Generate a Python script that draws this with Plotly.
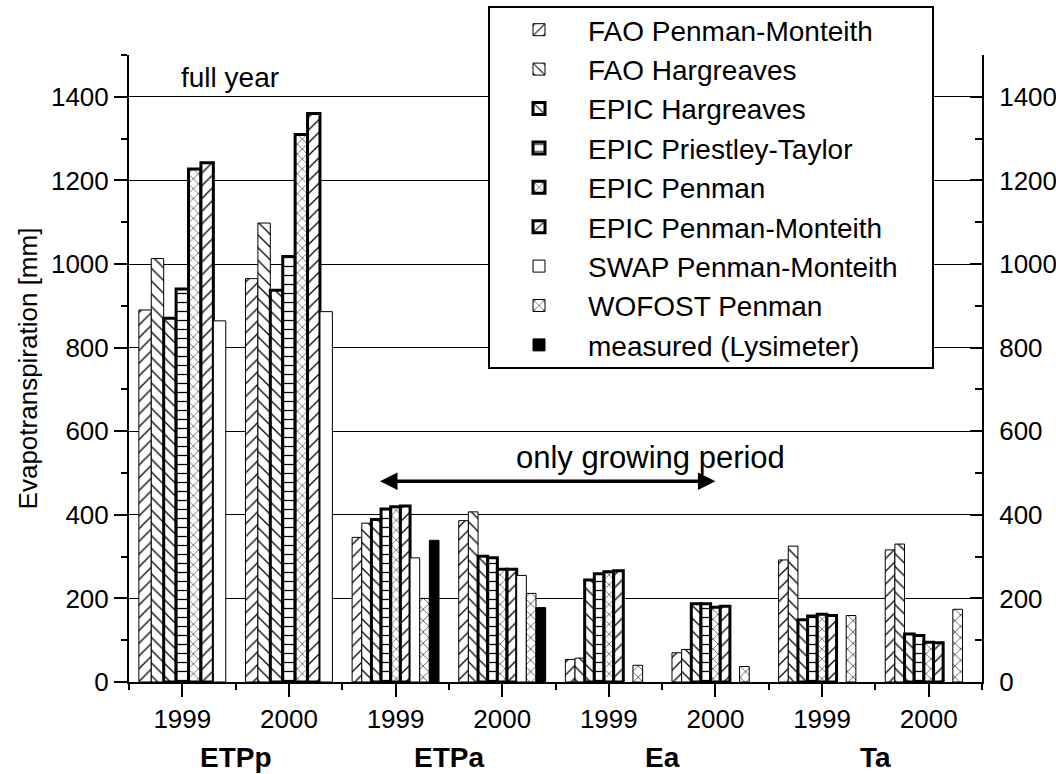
import plotly.graph_objects as go

# ---------------- data ----------------
categories = ["ETPp 1999", "ETPp 2000", "ETPa 1999", "ETPa 2000",
              "Ea 1999", "Ea 2000", "Ta 1999", "Ta 2000"]
year_labels = ["1999", "2000", "1999", "2000", "1999", "2000", "1999", "2000"]
group_labels = ["ETPp", "ETPa", "Ea", "Ta"]
full_year_cats = categories[:2]
growing_cats = categories[2:]

series_names = ["FAO Penman-Monteith", "FAO Hargreaves", "EPIC Hargreaves",
                "EPIC Priestley-Taylor", "EPIC Penman", "EPIC Penman-Monteith",
                "SWAP Penman-Monteith", "WOFOST Penman", "measured (Lysimeter)"]

# full year (ETPp 1999, 2000)
full_fao_pm = [890, 965]
full_fao_harg = [1013, 1098]
full_epic_harg = [870, 937]
full_epic_pt = [940, 1018]
full_epic_pen = [1227, 1310]
full_epic_pm = [1242, 1360]
full_swap_pm = [864, 886]

# growing period (ETPa 99, ETPa 00, Ea 99, Ea 00, Ta 99, Ta 00)
grow_fao_pm = [346, 386, 54, 70, 292, 316]
grow_fao_harg = [380, 407, 57, 78, 325, 330]
grow_epic_harg = [389, 301, 244, 187, 149, 115]
grow_epic_pt = [414, 297, 259, 187, 158, 111]
grow_epic_pen = [419, 270, 264, 179, 162, 95]
grow_epic_pm = [421, 270, 266, 181, 159, 94]
grow_swap_pm = [297, 255, None, None, None, None]
grow_wofost = [200, 212, 40, 37, 159, 174]
grow_measured = [339, 178, None, None, None, None]

full_values = [full_fao_pm, full_fao_harg, full_epic_harg, full_epic_pt,
               full_epic_pen, full_epic_pm, full_swap_pm, None, None]
grow_values = [grow_fao_pm, grow_fao_harg, grow_epic_harg, grow_epic_pt,
               grow_epic_pen, grow_epic_pm, grow_swap_pm, grow_wofost, grow_measured]

# ---------------- styles ----------------
FONT = "Liberation Sans, Arial, sans-serif"
styles = [
    dict(shape="/", lw=1, color="white", size=9),
    dict(shape="\\", lw=1, color="white", size=9),
    dict(shape="\\", lw=3, color="white", size=9),
    dict(shape="-", lw=3, color="white", size=9),
    dict(shape="x", lw=3, color="white", size=7),
    dict(shape="/", lw=3, color="white", size=9),
    dict(shape="", lw=1, color="white", size=9),
    dict(shape="x", lw=1, color="white", size=8),
    dict(shape="", lw=1, color="black", size=9),
]


def marker_for(st):
    m = dict(color=st["color"], line=dict(color="black", width=st["lw"]))
    if st["shape"]:
        m["pattern"] = dict(shape=st["shape"], fgcolor="black", bgcolor="white",
                            size=st["size"], solidity=0.14, fillmode="replace")
    return m


fig = go.Figure()

for name, vals, st in zip(series_names, grow_values, styles):
    fig.add_trace(go.Bar(x=growing_cats, y=vals, name=name, legendgroup=name,
                         marker=marker_for(st), xaxis="x", yaxis="y"))

for name, vals, st in zip(series_names, full_values, styles):
    if vals is None:
        continue
    fig.add_trace(go.Bar(x=full_year_cats, y=vals, name=name, legendgroup=name,
                         showlegend=False, marker=marker_for(st),
                         xaxis="x2", yaxis="y2"))

tickfont = dict(family=FONT, size=26, color="black")

# page layout (body margin is removed, figure fills the window)
W, H = 1056, 774
L, R, T, B = 129, 982, 55, 682
pw, ph = R - L, B - T
box_x0, box_x1, box_y0, box_y1 = 489, 933, 7, 368


def px_x(p):
    return (p - L) / pw


def px_y(p):
    return (B - p) / ph


fig.update_layout(
    width=W, height=H,
    margin=dict(l=L, r=W - R, t=T, b=H - B, autoexpand=False),
    paper_bgcolor="white", plot_bgcolor="white",
    barmode="group", bargap=0.185, bargroupgap=0,
    font=dict(family=FONT, color="black"),
    xaxis=dict(type="category", categoryorder="array", categoryarray=categories,
               range=[-0.5, len(categories) - 0.5], tickmode="array",
               tickvals=categories, ticktext=year_labels, tickfont=tickfont,
               ticks="outside", ticklen=13, tickwidth=2, tickcolor="black",
               showline=True, linewidth=2, linecolor="black", showgrid=False,
               zeroline=False, ticklabelstandoff=0),
    xaxis2=dict(type="category", categoryorder="array", categoryarray=categories,
                range=[-0.5, len(categories) - 0.5], overlaying="x", anchor="y",
                side="bottom", tickson="boundaries", ticks="outside", ticklen=7,
                tickwidth=2, tickcolor="black", showticklabels=False,
                showline=False, showgrid=False, zeroline=False),
    yaxis=dict(range=[0, 1500], dtick=200, tick0=0, ticks="outside", ticklen=13,
               tickwidth=2, tickcolor="black", tickfont=tickfont,
               showline=True, linewidth=2, linecolor="black",
               showgrid=True, gridcolor="black", gridwidth=1, zeroline=False,
               minor=dict(dtick=100, tick0=0, ticks="outside", ticklen=6,
                          tickwidth=2, tickcolor="black", showgrid=False),
               title=dict(text="Evapotranspiration [mm]",
                          font=dict(family=FONT, size=26, color="black"),
                          standoff=6)),
    yaxis2=dict(range=[0, 1500], dtick=200, tick0=0, overlaying="y", side="right",
                anchor="x", ticks="inside", ticklen=12, tickwidth=2,
                tickcolor="black", tickfont=tickfont, showline=True, linewidth=2,
                linecolor="black", showgrid=False, zeroline=False,
                showticklabels=True, ticklabelstandoff=10,
                minor=dict(dtick=100, tick0=0, ticks="inside", ticklen=7,
                           tickwidth=2, tickcolor="black", showgrid=False)),
    legend=dict(x=px_x(490), y=px_y((box_y0 + box_y1) / 2), xanchor="left",
                yanchor="middle", bgcolor="rgba(0,0,0,0)", borderwidth=0,
                font=dict(family=FONT, size=28, color="black"),
                itemwidth=88, traceorder="normal"),
    shapes=[dict(type="rect", xref="paper", yref="paper",
                 x0=px_x(box_x0), x1=px_x(box_x1), y0=px_y(box_y1), y1=px_y(box_y0),
                 fillcolor="white", line=dict(color="black", width=2), layer="above")],
)

annotations = []
for i, g in enumerate(group_labels):
    annotations.append(dict(x=2 * i + 0.5, y=px_y(757), xref="x", yref="paper",
                            yanchor="middle", text=g, showarrow=False,
                            font=dict(family=FONT, size=28, color="black", weight="bold")))
annotations.append(dict(x=0.45, y=1447, xref="x", yref="y", text="full year",
                        showarrow=False, font=dict(family=FONT, size=28, color="black")))
annotations.append(dict(x=4.39, y=537, xref="x", yref="y", text="only growing period",
                        showarrow=False, font=dict(family=FONT, size=31, color="black")))
annotations.append(dict(x=5.0, y=480, ax=1.84, ay=480, xref="x", yref="y",
                        axref="x", ayref="y", text="", showarrow=True,
                        arrowhead=2, arrowside="end+start", arrowsize=1,
                        arrowwidth=3.5, arrowcolor="black"))
fig.update_layout(annotations=annotations)

fig.write_html(
    "out.html",
    config={"displayModeBar": False},
    post_script="document.body.style.margin='0px';document.body.style.overflow='hidden';",
)
